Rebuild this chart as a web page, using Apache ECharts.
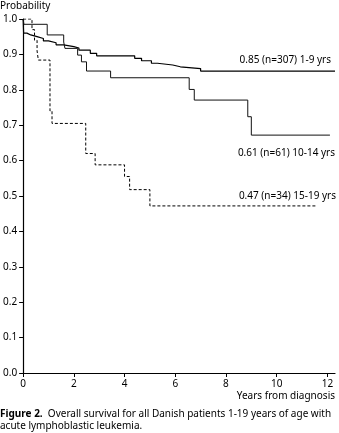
<!DOCTYPE html>
<html><head><meta charset="utf-8">
<script src="https://cdn.jsdelivr.net/npm/echarts@6/dist/echarts.min.js"></script>
<style>html,body{margin:0;padding:0;background:#fff}#c{width:339px;height:433px}</style>
</head><body><div id="c"></div>
<script>
// Kaplan-Meier step data [years, probability]
const grp1_9 = [[0,1.0],[0.02,0.96],[0.15,0.955],[0.3,0.95],[0.55,0.945],[0.8,0.938],[1.0,0.933],[1.3,0.927],[1.6,0.922],[2.0,0.918],[2.2,0.912],[2.65,0.903],[2.9,0.896],[4.4,0.889],[4.67,0.882],[5.06,0.875],[5.3,0.87],[5.9,0.865],[6.2,0.86],[7.0,0.853],[12.3,0.853]];
const grp10_14 = [[0,1.0],[0.03,0.985],[0.95,0.955],[1.6,0.935],[1.65,0.917],[2.15,0.898],[2.3,0.879],[2.5,0.853],[3.45,0.834],[6.55,0.801],[6.75,0.771],[8.86,0.724],[9.0,0.672],[12.1,0.672]];
const grp15_19 = [[0,1.0],[0.35,0.97],[0.45,0.94],[0.55,0.91],[0.6,0.884],[1.06,0.74],[1.14,0.705],[2.47,0.62],[2.84,0.588],[4.0,0.555],[4.2,0.518],[5.0,0.472],[11.57,0.472]];
const seriesLabels = ['0.85 (n=307) 1-9 yrs','0.61 (n=61) 10-14 yrs','0.47 (n=34) 15-19 yrs'];
const xTicks = [0,2,4,6,8,10,12];
const yTicks = [0,0.1,0.2,0.3,0.4,0.5,0.6,0.7,0.8,0.9,1.0];

const FONT = 'Noto Sans';
const chart = echarts.init(document.getElementById('c'), null, {renderer:'canvas'});
chart.setOption({
  animation:false,
  textStyle:{fontFamily:FONT},
  grid:{left:21,right:4,top:19,bottom:60,containLabel:false},
  xAxis:{type:'value',min:0,max:12.3,
    axisLine:{lineStyle:{color:'#000',width:1.2}},
    axisTick:{show:true,length:4,customValues:xTicks,lineStyle:{color:'#000'}},
    axisLabel:{customValues:xTicks,color:'#000',fontSize:10,margin:6,fontFamily:FONT},
    splitLine:{show:false}},
  yAxis:{type:'value',min:0,max:1,
    axisLine:{show:true,lineStyle:{color:'#000',width:1.2}},
    axisTick:{show:true,length:4,customValues:yTicks,lineStyle:{color:'#000'}},
    axisLabel:{customValues:yTicks,color:'#000',fontSize:10,margin:6,fontFamily:FONT,formatter:v=>v.toFixed(1)},
    splitLine:{show:false}},
  series:[
    {type:'line',step:'end',data:grp1_9,showSymbol:false,lineStyle:{color:'#000',width:1.2}},
    {type:'line',step:'end',data:grp10_14,showSymbol:false,lineStyle:{color:'#111',width:1}},
    {type:'line',step:'end',data:grp15_19,showSymbol:false,lineStyle:{color:'#000',width:1,type:[3,2]}}
  ],
  graphic:[
    {type:'text',left:0,top:1,style:{text:'Probability',font:'10px "Noto Sans"',fill:'#000'}},
    {type:'text',right:4,top:391,style:{text:'Years from diagnosis',font:'10px "Noto Sans"',fill:'#000'}},
    {type:'text',right:8,top:55,style:{text:seriesLabels[0],font:'10px "Noto Sans"',fill:'#000'}},
    {type:'text',right:4,top:148,style:{text:seriesLabels[1],font:'10px "Noto Sans"',fill:'#000'}},
    {type:'text',right:3,top:191,style:{text:seriesLabels[2],font:'10px "Noto Sans"',fill:'#000'}},
    {type:'text',left:0,top:408,style:{
      rich:{b:{fontWeight:'bold',fontSize:10,fontFamily:FONT,fill:'#000'},n:{fontSize:10,fontFamily:FONT,fill:'#000'}},
      text:'{b|Figure 2.}{n|  Overall survival for all Danish patients 1-19 years of age with}\n{n|acute lymphoblastic leukemia.}',
      lineHeight:12}}
  ]
});
</script></body></html>
